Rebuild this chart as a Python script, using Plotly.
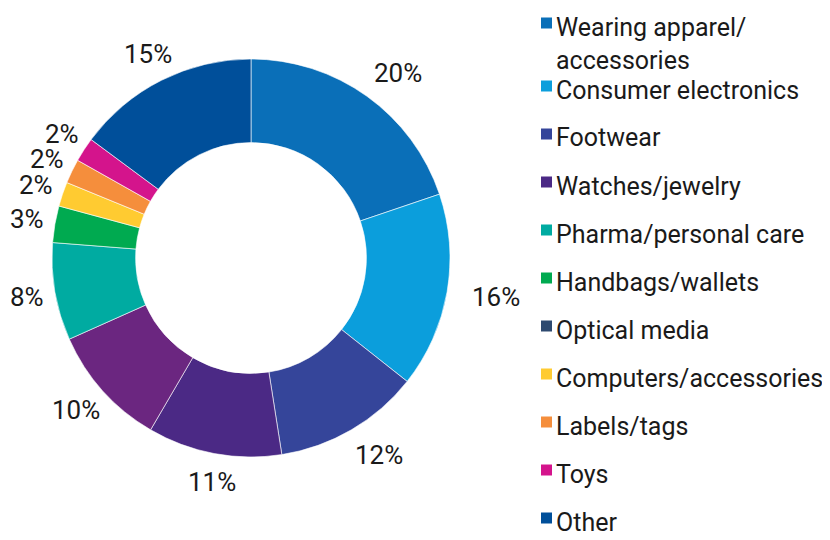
"""
Counterfeit goods seized, share by category (donut chart)
"""
import math
import plotly.graph_objects as go

categories = ["Wearing apparel/<br>accessories", "Consumer electronics", "Footwear",
              "Watches/jewelry", "Pharma/personal care", "Handbags/wallets",
              "Optical media", "Computers/accessories", "Labels/tags", "Toys", "Other"]
shares = [20, 16, 12, 11, 10, 8, 3, 2, 2, 2, 15]
slice_colors = ["#0a6fb8", "#0b9edc", "#35459a", "#4b2985", "#6b2680", "#00aba1",
                "#00aa50", "#ffcb31", "#f58e3c", "#d4148c", "#004f9a"]
legend_colors = ["#0a6fb8", "#0b9edc", "#35459a", "#4b2985", "#00aba1", "#00aa50",
                 "#2e4a70", "#ffcb31", "#f58e3c", "#d4148c", "#004f9a"]

FONT = "Roboto, Liberation Sans, sans-serif"
TXT = "#1a1a1a"
W, H = 830, 540
OFF = 8   # page body margin, the figure is drawn 8px in from the window corner

# donut geometry (window pixels)
cx, cy, R = 251, 258, 199


def px_x(x):
    return (x - OFF) / W


def px_y(y):
    return 1 - (y - OFF) / H


fig = go.Figure()

fig.add_trace(go.Pie(
    values=shares,
    labels=[f"s{i}" for i in range(len(shares))],
    textinfo='none',
    hole=0.58,
    sort=False,
    direction='clockwise',
    rotation=0,
    marker=dict(colors=slice_colors, line=dict(color='white', width=0.6)),
    domain=dict(x=[px_x(cx - R), px_x(cx + R)], y=[px_y(cy + R), px_y(cy - R)]),
    showlegend=False,
    hoverinfo='skip'
))

# percentage labels outside the ring, placed at each slice's mid angle
total = sum(shares)
cum = 0
for v in shares:
    theta = math.radians((cum + v / 2) / total * 360)
    cum += v
    txt = f"{v}%"
    hw = 9.5 * len(txt)   # approx half width of the label
    hh = 14
    lx = cx + 6 + 214 * math.sin(theta) + hw * math.sin(theta)
    ly = cy - 214 * math.cos(theta) - hh * math.cos(theta)
    fig.add_annotation(
        x=px_x(lx), y=px_y(ly), xref='paper', yref='paper',
        text=txt, showarrow=False, xanchor='center', yanchor='middle',
        font=dict(size=26, color=TXT, family=FONT)
    )

# legend drawn by hand: square swatch + text
y = 27
for name, col in zip(categories, legend_colors):
    nlines = name.count("<br>") + 1
    fig.add_shape(
        type='rect', xref='paper', yref='paper',
        x0=px_x(541), x1=px_x(552), y0=px_y(y + 1.5), y1=px_y(y - 9.5),
        fillcolor=col, line=dict(width=0)
    )
    fig.add_annotation(
        x=px_x(554), y=px_y(y + (nlines - 1) * 16.5), xref='paper', yref='paper',
        text=name, showarrow=False, xanchor='left', yanchor='middle', align='left',
        font=dict(size=25, color=TXT, family=FONT)
    )
    y += 48 + (nlines - 1) * 15

fig.update_layout(
    width=W,
    height=H,
    margin=dict(l=0, r=0, t=0, b=0),
    paper_bgcolor='white',
    plot_bgcolor='white',
    showlegend=False,
    font=dict(family=FONT)
)

fig.write_html("out.html")
